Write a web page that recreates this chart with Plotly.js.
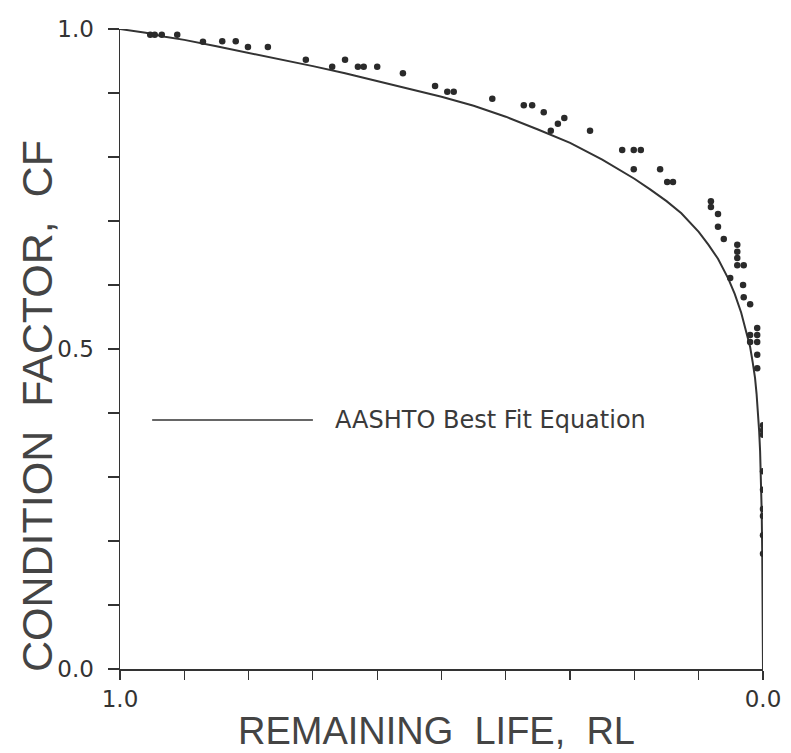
<!DOCTYPE html>
<html>
<head>
<meta charset="utf-8">
<script src="https://cdn.plot.ly/plotly-3.0.1.min.js"></script>
<style>
html,body{margin:0;padding:0;background:#fff;}
#chart{width:791px;height:753px;}
</style>
</head>
<body>
<div id="chart"></div>
<script>
// Best-fit curve
var curveRL = [1.000, 0.985, 0.960, 0.930, 0.900, 0.850, 0.800, 0.750, 0.700, 0.650, 0.600, 0.550, 0.500, 0.450, 0.400, 0.350, 0.300, 0.250, 0.200, 0.175, 0.150, 0.127, 0.100, 0.085, 0.070, 0.054, 0.044, 0.034, 0.026, 0.020, 0.016, 0.0124, 0.0100, 0.0078, 0.006, 0.0045, 0.003, 0.002, 0.0012, 0.0005, 0.000];
var curveCF = [1.000, 0.998, 0.994, 0.988, 0.983, 0.973, 0.963, 0.953, 0.942, 0.931, 0.919, 0.907, 0.894, 0.880, 0.863, 0.843, 0.822, 0.796, 0.766, 0.749, 0.731, 0.712, 0.683, 0.663, 0.641, 0.610, 0.586, 0.557, 0.528, 0.503, 0.479, 0.455, 0.430, 0.402, 0.372, 0.340, 0.295, 0.245, 0.180, 0.090, 0.000];

// Observed data points
var obsRL = [0.953, 0.946, 0.935, 0.911, 0.871, 0.841, 0.820, 0.801, 0.770, 0.711,
             0.670, 0.650, 0.630, 0.621, 0.600, 0.560, 0.510, 0.491, 0.481, 0.421,
             0.372, 0.359, 0.341, 0.309, 0.319, 0.330, 0.269, 0.219, 0.201, 0.190,
             0.201, 0.160, 0.149, 0.140, 0.081, 0.081, 0.070, 0.070, 0.061, 0.040,
             0.040, 0.040, 0.040, 0.030, 0.051, 0.031, 0.030, 0.020, 0.009, 0.020,
             0.009, 0.020, 0.009, 0.009, 0.009, 0.000, 0.000, 0.000, 0.000, 0.000,
             0.000, 0.000, 0.000, 0.000];
var obsCF = [0.991, 0.991, 0.991, 0.991, 0.980, 0.981, 0.981, 0.972, 0.972, 0.952,
             0.941, 0.952, 0.941, 0.941, 0.941, 0.931, 0.911, 0.902, 0.902, 0.891,
             0.881, 0.881, 0.870, 0.861, 0.852, 0.841, 0.841, 0.811, 0.811, 0.811,
             0.781, 0.781, 0.761, 0.761, 0.731, 0.722, 0.711, 0.691, 0.672, 0.663,
             0.652, 0.642, 0.631, 0.631, 0.611, 0.600, 0.581, 0.570, 0.533, 0.522,
             0.522, 0.511, 0.511, 0.491, 0.470, 0.381, 0.373, 0.366, 0.309, 0.280,
             0.250, 0.239, 0.209, 0.180];

var xTickVals = [1.0, 0.9, 0.8, 0.7, 0.6, 0.5, 0.4, 0.3, 0.2, 0.1, 0.0];
var xTickText = ['1.0', '', '', '', '', '', '', '', '', '', '0.0'];
var yTickVals = [0.0, 0.1, 0.2, 0.3, 0.4, 0.5, 0.6, 0.7, 0.8, 0.9, 1.0];
var yTickText = ['0.0', '', '', '', '', '0.5', '', '', '', '', '1.0'];

var legendLabel = 'AASHTO Best Fit Equation';
var xTitle = 'REMAINING\u00a0\u00a0LIFE,\u00a0\u00a0RL';
var yTitle = 'CONDITION\u00a0\u00a0FACTOR,\u00a0\u00a0CF';

var ink = '#333333';

var traces = [
  {
    x: curveRL, y: curveCF, type: 'scatter', mode: 'lines',
    line: {color: ink, width: 2, shape: 'linear'},
    hoverinfo: 'skip', showlegend: false
  },
  {
    x: obsRL, y: obsCF, type: 'scatter', mode: 'markers',
    marker: {symbol: 'circle', size: 6.5, color: '#2a2a2a'},
    showlegend: false
  }
];

var layout = {
  width: 791, height: 753,
  paper_bgcolor: '#ffffff', plot_bgcolor: '#ffffff',
  margin: {l: 120, r: 28, t: 29, b: 84},
  showlegend: false,
  xaxis: {
    range: [1.0, 0.0], autorange: false,
    tickmode: 'array', tickvals: xTickVals, ticktext: xTickText,
    ticks: 'outside', ticklen: 9, tickwidth: 1.2, tickcolor: ink,
    showline: true, linecolor: ink, linewidth: 1.5,
    showgrid: false, zeroline: false,
    tickfont: {family: 'DejaVu Sans', size: 23, color: ink}
  },
  yaxis: {
    range: [0.0, 1.0], autorange: false,
    tickmode: 'array', tickvals: yTickVals, ticktext: yTickText,
    ticks: 'outside', ticklen: 11, tickwidth: 1.2, tickcolor: ink,
    ticklabelstandoff: 9,
    showline: true, linecolor: ink, linewidth: 1.5,
    showgrid: false, zeroline: false,
    tickfont: {family: 'DejaVu Sans', size: 23, color: ink}
  },
  shapes: [
    {type: 'line', xref: 'paper', yref: 'paper', x0: 0.05, x1: 0.30, y0: 0.389, y1: 0.389,
     line: {color: ink, width: 1.5}}
  ],
  annotations: [
    {xref: 'paper', yref: 'paper', x: 0.331, y: 0.389, xanchor: 'left', yanchor: 'middle',
     text: legendLabel, showarrow: false,
     font: {family: 'DejaVu Sans', size: 24, color: '#3a3a3a'}},
    {xref: 'paper', yref: 'paper', x: 0.493, y: -0.097, xanchor: 'center', yanchor: 'middle',
     text: xTitle, showarrow: false,
     font: {family: 'Liberation Sans', size: 38, color: '#444'}},
    {xref: 'paper', yref: 'paper', x: -0.129, y: 0.411, xanchor: 'center', yanchor: 'middle',
     text: yTitle, showarrow: false, textangle: -90,
     font: {family: 'Liberation Sans', size: 43, color: '#444'}}
  ]
};

Plotly.newPlot('chart', traces, layout, {displayModeBar: false, staticPlot: true});
</script>
</body>
</html>
